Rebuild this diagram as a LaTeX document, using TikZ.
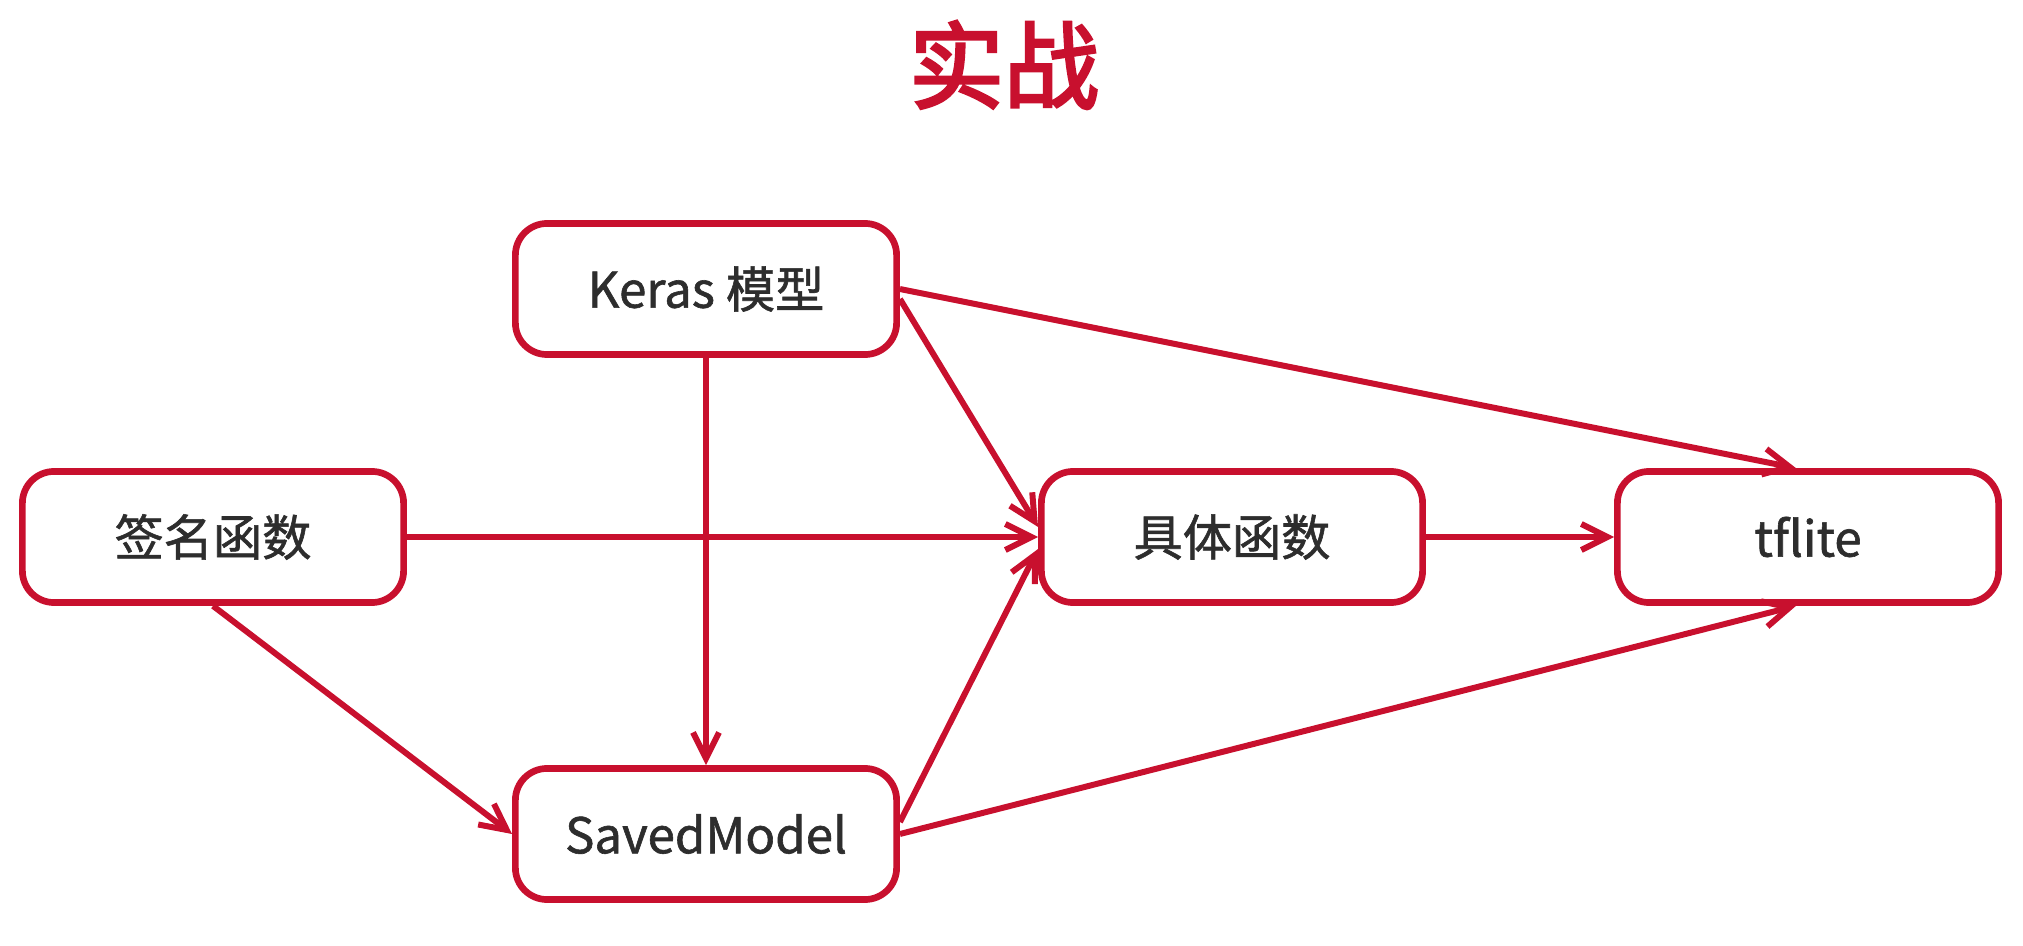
\documentclass[tikz,border=0pt]{standalone}
\usepackage{fontspec}
\setmainfont{Noto Sans CJK SC}
\newfontfamily\boxfont{Noto Sans CJK SC}[FakeBold=1.2]
\newfontfamily\headfont{Noto Sans CJK SC}[FakeBold=3]
\usetikzlibrary{arrows.meta}
\definecolor{flowRed}{RGB}{200,16,46}
\definecolor{textGray}{RGB}{45,45,45}

\begin{document}
\begin{tikzpicture}[x=0.01cm,y=-0.01cm]
%styles
\tikzstyle{box}=[rectangle, draw=flowRed, line width=1.9pt, rounded corners=9pt, fill=white,
  minimum width=3.81cm, minimum height=1.31cm, text=textGray, font=\boxfont\fontsize{14}{16}\selectfont]
\tikzstyle{title}=[text=flowRed, font=\headfont\fontsize{27}{30}\selectfont]
\tikzstyle{flow}=[-{Straight Barb[length=2.6mm,width=2.6mm,line width=1.7pt]}, draw=flowRed, line width=1.7pt]

\useasboundingbox (0,0) rectangle (2023,946);

%figure
\node[title] (head) at (1004,65) {实战};

\node[box] (keras) at (706,289) {Keras 模型};
\node[box] (sign) at (213,537) {签名函数};
\node[box] (concrete) at (1232,537) {具体函数};
\node[box] (tflite) at (1808,537) {tflite};
\node[box] (saved) at (706,834) {SavedModel};

%arrows
\draw[flow] (keras.south) -- (saved.north);
\draw[flow] (keras.east) -- ([xshift=-0.12cm]tflite.north);
\draw[flow] ([yshift=-0.1cm]keras.east) -- ([yshift=0.1cm]concrete.west);
\draw[flow] (sign.east) -- (concrete.west);
\draw[flow] (sign.south) -- (saved.west);
\draw[flow] ([yshift=0.12cm]saved.east) -- ([yshift=-0.12cm]concrete.west);
\draw[flow] (saved.east) -- ([xshift=-0.12cm]tflite.south);
\draw[flow] (concrete.east) -- (tflite.west);
\end{tikzpicture}
\end{document}
